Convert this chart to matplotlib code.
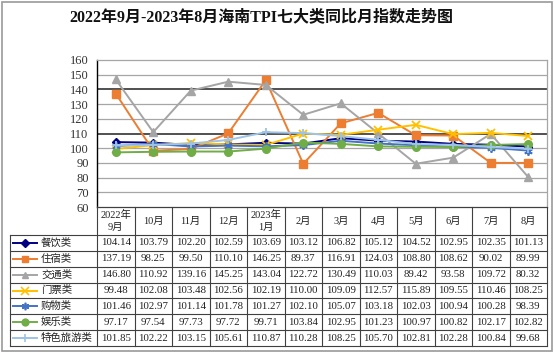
import matplotlib
matplotlib.use('Agg')
import matplotlib.pyplot as plt
from matplotlib.patches import Rectangle

plt.rcParams['font.family'] = ['Liberation Serif', 'Noto Sans CJK SC', 'DejaVu Sans']

title = '2022年9月-2023年8月海南TPI七大类同比月指数走势图'
categories = ['2022年\n9月', '10月', '11月', '12月', '2023年\n1月', '2月',
              '3月', '4月', '5月', '6月', '7月', '8月']
series_names = ['餐饮类', '住宿类', '交通类', '门票类', '购物类', '娱乐类', '特色旅游类']
canyin = [104.14, 103.79, 102.20, 102.59, 103.69, 103.12, 106.82, 105.12, 104.52, 102.95, 102.35, 101.13]
zhusu = [137.19, 98.25, 99.50, 110.10, 146.25, 89.37, 116.91, 124.03, 108.80, 108.62, 90.02, 89.99]
jiaotong = [146.80, 110.92, 139.16, 145.25, 143.04, 122.72, 130.49, 110.03, 89.42, 93.58, 109.72, 80.32]
menpiao = [99.48, 102.08, 103.48, 102.56, 102.19, 110.00, 109.09, 112.57, 115.89, 109.55, 110.46, 108.25]
gouwu = [101.46, 102.97, 101.14, 101.78, 101.27, 102.10, 105.07, 103.18, 102.03, 100.94, 100.28, 98.39]
yule = [97.17, 97.54, 97.73, 97.72, 99.71, 103.84, 102.95, 101.23, 100.97, 100.82, 102.17, 102.82]
tese = [101.85, 102.22, 103.15, 105.61, 110.87, 110.28, 108.25, 105.70, 102.81, 102.28, 100.84, 99.68]
yticks = [60, 70, 80, 90, 100, 110, 120, 130, 140, 150, 160]

all_series = [canyin, zhusu, jiaotong, menpiao, gouwu, yule, tese]
colors = ['#000080', '#ED7D31', '#A5A5A5', '#FFC000', '#4472C4', '#70AD47', '#9DC3E6']
markers = ['D', 's', '^', 'x', (6, 2, 0), 'o', '+']
msizes = [4, 5.5, 5.5, 6, 6, 5.5, 6]

W, H = 554, 354
L, R, T, B = 97, 547, 60, 207
HB = 235   # header bottom
TB = 346   # table bottom
TL = 10    # table left

fig = plt.figure(figsize=(W / 100, H / 100), dpi=100)
fig.patch.set_facecolor('white')

ax = fig.add_axes([L / W, 1 - B / H, (R - L) / W, (B - T) / H])
ax.set_xlim(-0.5, len(categories) - 0.5)
ax.set_ylim(yticks[0], yticks[-1])
for y in yticks[1:-1]:
    if y in (110, 140):
        ax.axhline(y, color='#202020', lw=1.1, zorder=0)
    else:
        ax.axhline(y, color='#A6A6A6', lw=0.9, zorder=0)
ax.set_yticks(yticks)
ax.set_yticklabels([str(v) for v in yticks], fontsize=9, color='#333333')
ax.tick_params(axis='y', length=0, pad=6)
ax.set_xticks([])
for s in ['top', 'right', 'bottom']:
    ax.spines[s].set_color('#A6A6A6')
    ax.spines[s].set_linewidth(0.9)
ax.spines['left'].set_color('#000000')
ax.spines['left'].set_linewidth(1.0)

xs = list(range(len(categories)))
for vals, c, m, ms in zip(all_series, colors, markers, msizes):
    ax.plot(xs, vals, color=c, lw=1.4, marker=m, ms=ms, mec=c, mfc=c,
            mew=1.3 if m in ('x', '+') or isinstance(m, tuple) else 1, clip_on=False, zorder=3)

# table overlay in pixel coordinates
tab = fig.add_axes([0, 0, 1, 1])
tab.set_xlim(0, W)
tab.set_ylim(H, 0)
tab.axis('off')

n = len(categories)
cw = (R - L) / n
rh = (TB - HB) / len(series_names)
lc = '#404040'

tab.add_patch(Rectangle((2, 2), W - 4, H - 5, fill=False, ec='#9A9A9A', lw=1.2))
tab.text(W / 2 - 16, 17, title, ha='center', va='center', fontsize=11.5, fontweight='bold', color='#111111')

# header verticals
for i in range(n + 1):
    x = L + i * cw
    tab.plot([x, x], [B, TB], color=lc, lw=0.8)
tab.plot([L, R], [B, B], color=lc, lw=0.8)
for i, cat in enumerate(categories):
    tab.text(L + (i + 0.5) * cw, (B + HB) / 2, cat, ha='center', va='center',
             fontsize=7.5, color='#222222', linespacing=1.3)
# rows
for j in range(len(series_names) + 1):
    y = HB + j * rh
    tab.plot([TL, R], [y, y], color=lc, lw=0.8)
tab.plot([TL, TL], [HB, TB], color=lc, lw=0.8)
for j, (name, vals, c, m, ms) in enumerate(zip(series_names, all_series, colors, markers, msizes)):
    yc = HB + (j + 0.5) * rh
    tab.plot([13, 37], [yc, yc], color=c, lw=1.4)
    tab.plot([25], [yc], color=c, marker=m, ms=ms * 0.9, mec=c, mfc=c,
             mew=1.2 if m in ('x', '+') or isinstance(m, tuple) else 1)
    tab.text(41, yc, name, ha='left', va='center', fontsize=7.5, color='#222222')
    for i, v in enumerate(vals):
        tab.text(L + (i + 0.5) * cw, yc, f'{v:.2f}', ha='center', va='center',
                 fontsize=7.8, color='#222222')

fig.savefig('out.png', dpi=100, facecolor='white')
